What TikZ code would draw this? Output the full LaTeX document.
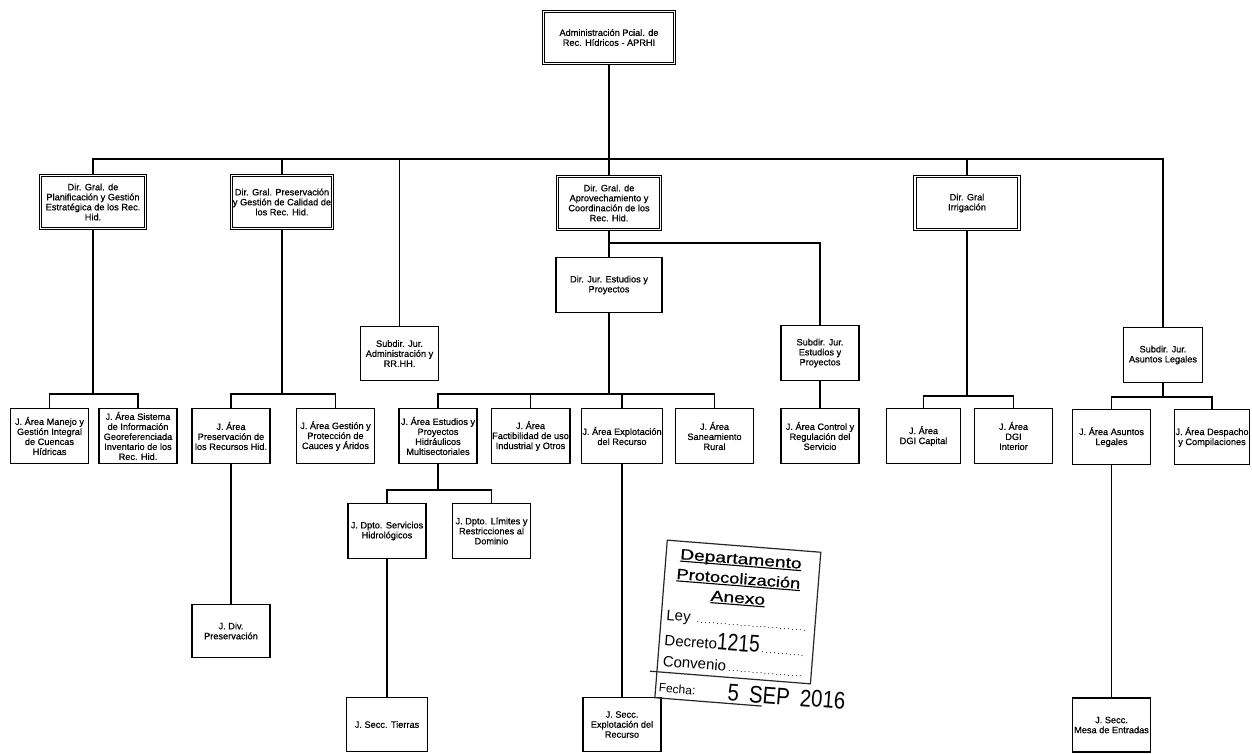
\documentclass[tikz,border=0pt]{standalone}
\usepackage{fontspec}
\usepackage{graphicx}
\setmainfont{Liberation Sans}
\newfontfamily\boxfont{Liberation Sans}[FakeBold=0.6]
\newcommand\myul[1]{\setbox0\hbox{#1}\rlap{\rule[-2.4pt]{\wd0}{1.1pt}}\box0}
\begin{document}
\begin{tikzpicture}[x=1pt,y=-1pt,
  box/.style={draw=black, line width=1.3pt, fill=white, inner sep=1pt, align=center, font=\boxfont\fontsize{9.2}{10}\selectfont},
  dbox/.style={box, double=white, double distance=1.5pt, line width=0.9pt},
  l3/.style={box, minimum width=78pt, minimum height=55pt},
  conn/.style={line width=1.2pt},
  stampline/.style={line width=1.2pt, draw=black!85},
  stamptitle/.style={inner sep=0pt, anchor=base, font=\boxfont\fontsize{15}{15}\selectfont},
  stamptext/.style={inner sep=0pt, anchor=base west, font=\fontsize{15}{15}\selectfont},
]
\useasboundingbox (0,0) rectangle (1252,754);

% level 0 / 1
\node[dbox, minimum width=131pt, minimum height=52pt] (admin) at (609,37.5) {Administración Pcial. de\\Rec. Hídricos - APRHI};
\node[dbox, minimum width=105pt, minimum height=53pt] (plan) at (93,202) {Dir. Gral. de\\Planificación y Gestión\\Estratégica de los Rec.\\Hid.};
\node[dbox, minimum width=101pt, minimum height=53pt] (pres) at (282,202) {Dir. Gral. Preservación\\y Gestión de Calidad de\\los Rec. Hid.};
\node[box, minimum width=78pt, minimum height=54pt] (subadm) at (399.5,353.5) {Subdir. Jur.\\Administración y\\RR.HH.};
\node[dbox, minimum width=103pt, minimum height=53pt] (aprov) at (609,203) {Dir. Gral. de\\Aprovechamiento y\\Coordinación de los\\Rec. Hid.};
\node[dbox, minimum width=104pt, minimum height=53pt] (irrig) at (967,203) {Dir. Gral\\Irrigación};
\node[box, minimum width=79pt, minimum height=55pt] (subleg) at (1163,355) {Subdir. Jur.\\Asuntos Legales};
\node[box, minimum width=106pt, minimum height=55pt] (direst) at (609,285) {Dir. Jur. Estudios y\\Proyectos};
\node[box, minimum width=78pt, minimum height=55pt] (subest) at (820,353) {Subdir. Jur.\\Estudios y\\Proyectos};

% level 3
\node[l3] (manejo) at (49.5,436) {J. Área Manejo y\\Gestión Integral\\de Cuencas\\Hídricas};
\node[l3] (sist) at (138,436) {J. Área Sistema\\de Información\\Georeferenciada\\Inventario de los\\Rec. Hid.};
\node[l3] (prerec) at (231,436) {J. Área\\Preservación de\\los Recursos Hid.};
\node[l3] (gestcau) at (335.5,436) {J. Área Gestión y\\Protección de\\Cauces y Áridos};
\node[l3] (hidr) at (438,436) {J. Área Estudios y\\Proyectos\\Hidráulicos\\Multisectoriales};
\node[l3] (fact) at (530.5,436) {J. Área\\Factibilidad de uso\\Industrial y Otros};
\node[l3, minimum width=81pt] (explo) at (622,436) {J. Área Explotación\\del Recurso};
\node[l3] (sanea) at (714.5,436) {J. Área\\Saneamiento\\Rural};
\node[l3] (control) at (820,436) {J. Área Control y\\Regulación del\\Servicio};
\node[l3, minimum width=74pt] (dgicap) at (923.5,436) {J. Área\\DGI Capital};
\node[l3] (dgiint) at (1013.5,436) {J. Área\\DGI\\Interior};
\node[l3] (asleg) at (1111.5,437) {J. Área Asuntos\\Legales};
\node[l3, minimum width=75pt] (desp) at (1212,437) {J. Área Despacho\\y Compilaciones};

% level 4 / 5
\node[l3] (servh) at (387,531) {J. Dpto. Servicios\\Hidrológicos};
\node[l3] (limit) at (491.5,531) {J. Dpto. Límites y\\Restricciones al\\Dominio};
\node[l3, minimum height=53pt] (div) at (231,631) {J. Div.\\Preservación};
\node[l3, minimum width=81pt, minimum height=54pt] (tierras) at (387,724.5) {J. Secc. Tierras};
\node[l3, minimum height=54pt] (seccexp) at (622,724.5) {J. Secc.\\Explotación del\\Recurso};
\node[l3, minimum height=54pt] (mesa) at (1111.5,725) {J. Secc.\\Mesa de Entradas};

% connectors
\coordinate (mb) at (609,159);
\draw[conn] (admin.south) -- (mb);
\foreach \n in {plan,pres,subadm,irrig,subleg} {\draw[conn] (mb) -| (\n.north);}
\draw[conn] (mb) -- (aprov.north);

\coordinate (pb) at (93,394);
\draw[conn] (plan.south) -- (pb);
\draw[conn] (pb) -| (manejo.north);
\draw[conn] (pb) -| (sist.north);

\coordinate (rb) at (282,394);
\draw[conn] (pres.south) -- (rb);
\draw[conn] (rb) -| (prerec.north);
\draw[conn] (rb) -| (gestcau.north);

\coordinate (ab) at (609,243);
\draw[conn] (aprov.south) -- (direst.north);
\draw[conn] (ab) -| (subest.north);
\draw[conn] (subest.south) -- (control.north);

\coordinate (db) at (609,394);
\draw[conn] (direst.south) -- (db);
\foreach \n in {hidr,fact,explo,sanea} {\draw[conn] (db) -| (\n.north);}

\coordinate (ib) at (967,396);
\draw[conn] (irrig.south) -- (ib);
\draw[conn] (ib) -| (dgicap.north);
\draw[conn] (ib) -| (dgiint.north);

\coordinate (lb) at (1163,397);
\draw[conn] (subleg.south) -- (lb);
\draw[conn] (lb) -| (asleg.north);
\draw[conn] (lb) -| (desp.north);

\coordinate (hb) at (438,490);
\draw[conn] (hidr.south) -- (hb);
\draw[conn] (hb) -| (servh.north);
\draw[conn] (hb) -| (limit.north);

\draw[conn] (prerec.south) -- (div.north);
\draw[conn] (servh.south) -- (tierras.north);
\draw[conn] (explo.south) -- (seccexp.north);
\draw[conn] (asleg.south) -- (mesa.north);

% stamp
\begin{scope}[shift={(739,610)}, rotate=-4.5, transform shape]
\draw[stampline] (-77,-64) rectangle (77,68);
\draw[stampline] (-84,68) -- (-77,68);
\draw[stampline] (-77,68) -- (-77,94) -- (30,94);
\node[stamptitle] (sdep) at (-2,-46) {\myul{\scalebox{1.28}[1]{Departamento}}};
\node[stamptitle] (sprot) at (-3,-26) {\myul{\scalebox{1.22}[1]{Protocolización}}};
\node[stamptitle] (sanx) at (-2,-7) {\myul{\scalebox{1.28}[1]{Anexo}}};
\node[stamptext] (sley) at (-72,16) {\makebox[142pt][l]{Ley\ {\fontsize{9}{9}\selectfont\dotfill}}};
\node[stamptext] (sdec) at (-72,41) {\makebox[142pt][l]{Decreto\scalebox{0.8}[1]{\fontsize{24}{24}\selectfont 1215}{\fontsize{9}{9}\selectfont\dotfill}}};
\node[stamptext] (scon) at (-72,62) {\makebox[142pt][l]{Convenio{\fontsize{9}{9}\selectfont\dotfill}}};
\node[stamptext, font=\fontsize{12}{12}\selectfont] (sfec) at (-74,88) {Fecha:};
\node[stamptext, font=\fontsize{24}{24}\selectfont] (sdate) at (-5,91) {\scalebox{0.85}[1]{5\enspace SEP\enspace 2016}};
\end{scope}
\end{tikzpicture}
\end{document}
